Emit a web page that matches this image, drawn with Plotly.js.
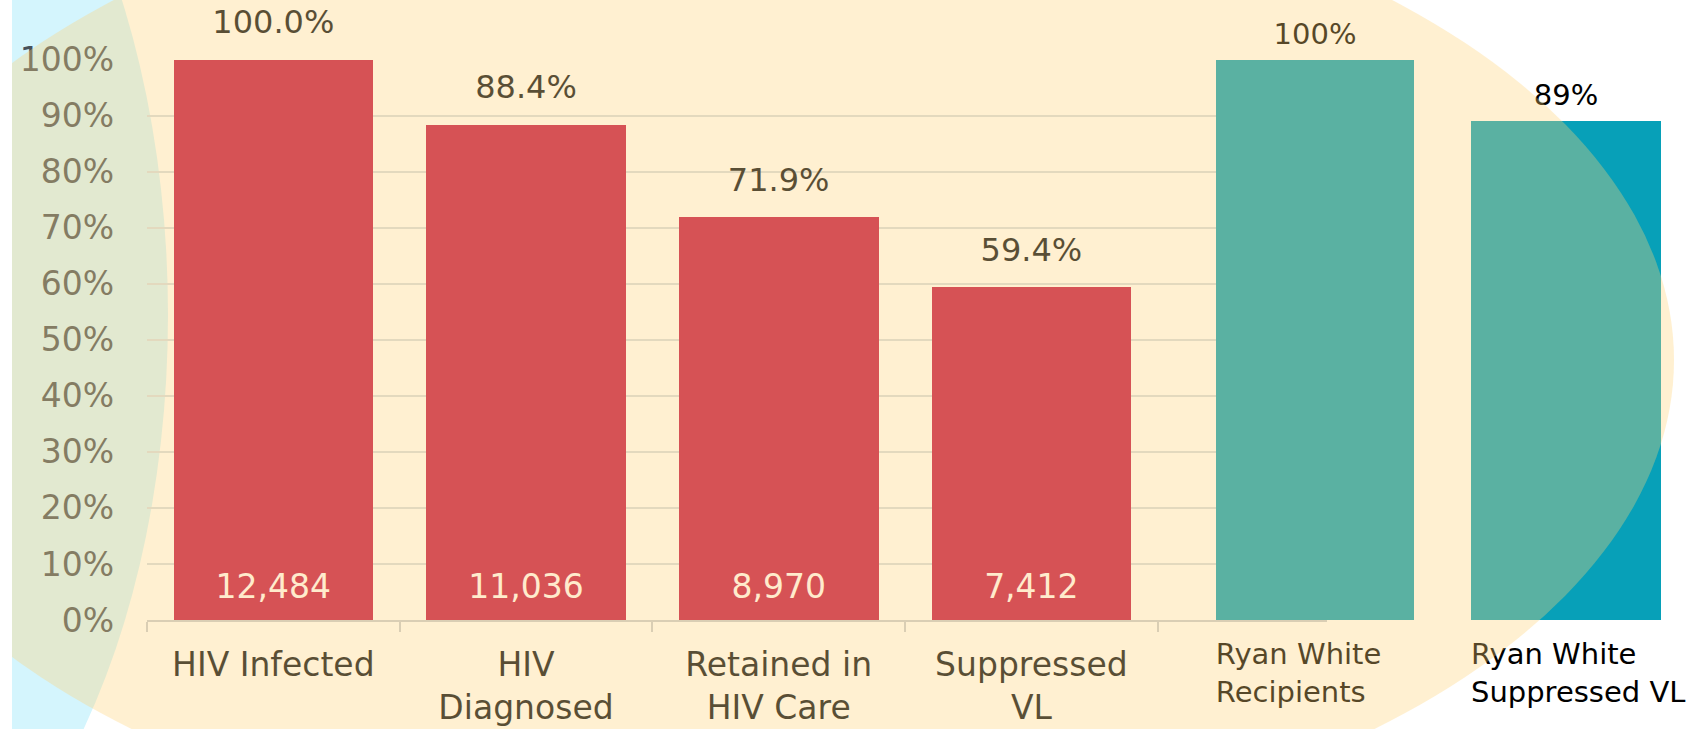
<!DOCTYPE html>
<html>
<head>
<meta charset="utf-8">
<script src="https://cdn.plot.ly/plotly-3.0.1.min.js"></script>
<style>html,body{margin:0;padding:0;background:#fff;}#chart{width:1706px;height:729px;}</style>
</head>
<body>
<div id="chart"></div>
<script>
// ---- data ----
const categories = ['HIV Infected', 'HIV<br>Diagnosed', 'Retained in<br>HIV Care', 'Suppressed<br>VL'];
const percents = [100.0, 88.4, 71.9, 59.4];
const counts = [12484, 11036, 8970, 7412];
const rwCategories = ['Ryan White<br>Recipients', 'Ryan White<br>Suppressed VL'];
const rwPercents = [100, 89];
const yTickValues = [0, 10, 20, 30, 40, 50, 60, 70, 80, 90, 100];
const yTickLabels = ['0%', '10%', '20%', '30%', '40%', '50%', '60%', '70%', '80%', '90%', '100%'];

// ---- styles ----
const W = 1706, H = 729;
const FONT = 'DejaVu Sans, Verdana, sans-serif';
const redColor = '#C11244';
const tealColor = '#07A0B8';
const rwPositions = rwCategories.map((_, i) => i);
const rwWidths = [0.79, 0.757];
const px = v => v / W;
const py = v => 1 - v / H;

const traces = [
  {
    type: 'bar', x: categories, y: percents, width: 0.79,
    marker: {color: redColor, line: {width: 0}},
    hoverinfo: 'skip', xaxis: 'x', yaxis: 'y'
  },
  {
    type: 'scatter', mode: 'markers+text', x: categories, y: percents,
    texttemplate: '%{y:.1f}%', textposition: 'top center',
    textfont: {family: FONT, size: 32, color: '#060C14'},
    marker: {size: 28, color: 'rgba(0,0,0,0)'}, cliponaxis: false,
    hoverinfo: 'skip', xaxis: 'x', yaxis: 'y'
  },
  {
    type: 'scatter', mode: 'markers+text', x: categories, y: categories.map(() => 0),
    text: counts.map(c => c.toLocaleString('en-US')), textposition: 'top center',
    textfont: {family: FONT, size: 33, color: '#FFF8F8'},
    marker: {size: 21, color: 'rgba(0,0,0,0)'}, cliponaxis: false,
    hoverinfo: 'skip', xaxis: 'x', yaxis: 'y'
  },
  {
    type: 'bar', x: rwPositions, y: rwPercents, width: rwWidths,
    marker: {color: tealColor, line: {width: 0}},
    hoverinfo: 'skip', xaxis: 'x2', yaxis: 'y2'
  },
  {
    type: 'scatter', mode: 'markers+text', x: rwPositions, y: rwPercents,
    texttemplate: '%{y}%', textposition: 'top center',
    textfont: {family: FONT, size: 29, color: '#000000'},
    marker: {size: 12, color: 'rgba(0,0,0,0)'}, cliponaxis: false,
    hoverinfo: 'skip', xaxis: 'x2', yaxis: 'y2'
  }
];

const yDomain = [py(620), py(59.5)];
const layout = {
  width: W, height: H,
  margin: {l: 0, r: 0, t: 0, b: 0, pad: 0},
  paper_bgcolor: '#FFFFFF', plot_bgcolor: 'rgba(0,0,0,0)',
  showlegend: false,
  bargap: 0,
  xaxis: {
    domain: [px(147), px(1327)], range: [-0.5, 4.17], type: 'category',
    tickson: 'boundaries', ticks: 'outside', ticklen: 10, tickwidth: 2, tickcolor: '#C8CCD4',
    showline: true, linecolor: '#C8CCD4', linewidth: 2,
    showgrid: false, zeroline: false, fixedrange: true,
    tickfont: {family: FONT, size: 33, color: '#060C14'},
    ticklabelstandoff: 14, anchor: 'y'
  },
  yaxis: {
    domain: yDomain, range: [0, 100],
    tickmode: 'array', tickvals: yTickValues, ticktext: yTickLabels, ticks: '',
    showgrid: true, gridcolor: '#D5DDE3', gridwidth: 2,
    zeroline: false, showline: false, fixedrange: true,
    tickfont: {family: FONT, size: 33, color: '#46505A'},
    ticklabelstandoff: 32, anchor: 'x'
  },
  xaxis2: {
    domain: [px(1189.5), px(1691.5)], range: [-0.5, 1.5], type: 'linear',
    tickmode: 'array',
    tickvals: rwPositions.map((p, i) => p - rwWidths[i] / 2), ticktext: rwCategories,
    ticklabelposition: 'outside right', ticks: '',
    showgrid: false, zeroline: false, showline: false, fixedrange: true,
    tickfont: {family: FONT, size: 29, color: '#000000'},
    ticklabelstandoff: 14, anchor: 'y2'
  },
  yaxis2: {
    domain: yDomain, range: [0, 100], visible: false, fixedrange: true, anchor: 'x2'
  },
  shapes: [
    {type: 'circle', xref: 'paper', yref: 'paper', layer: 'below',
     x0: px(-568), x1: px(168), y0: py(965), y1: py(-335),
     fillcolor: '#D4F5FD', line: {width: 0}},
    {type: 'circle', xref: 'paper', yref: 'paper', layer: 'above',
     x0: px(-168), x1: px(1674), y0: py(860), y1: py(-140),
     fillcolor: '#FFD377', opacity: 0.338, line: {width: 0}},
    {type: 'rect', xref: 'paper', yref: 'paper', layer: 'above',
     x0: 0, x1: px(12), y0: 0, y1: 1,
     fillcolor: '#FFFFFF', line: {width: 0}}
  ]
};

Plotly.newPlot('chart', traces, layout, {displayModeBar: false, staticPlot: true});
</script>
</body>
</html>
